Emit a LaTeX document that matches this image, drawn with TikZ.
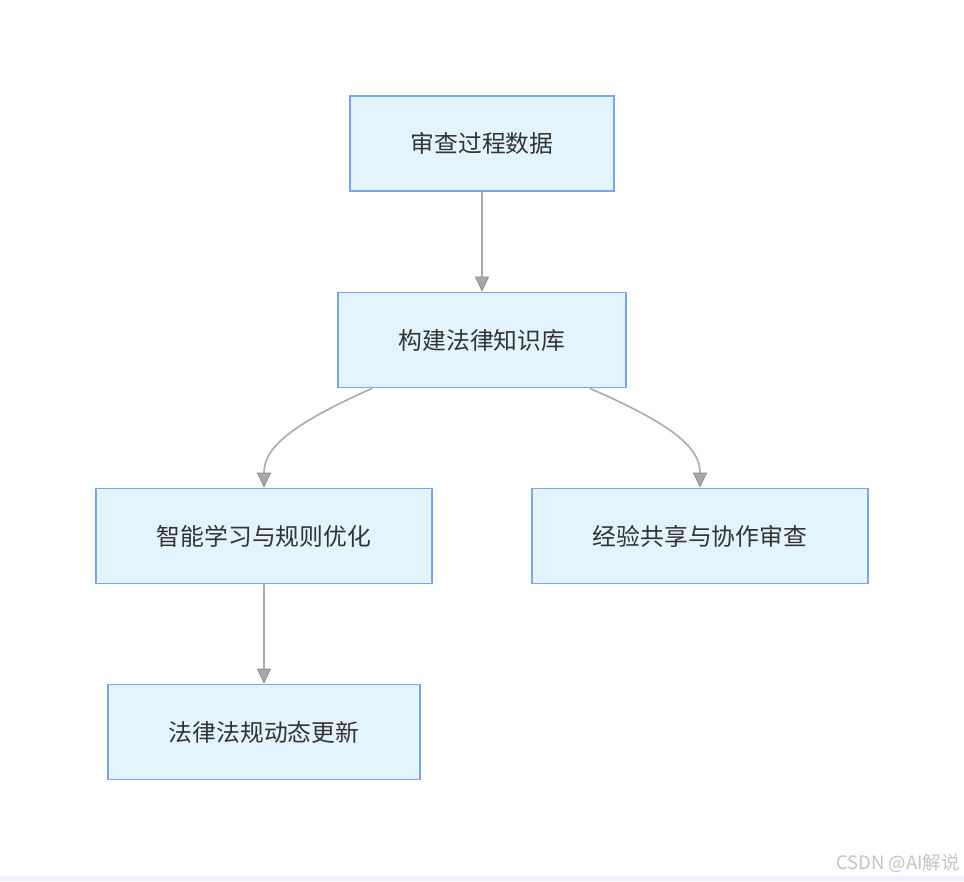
\documentclass[tikz,border=0pt]{standalone}
\usepackage{fontspec}
\newfontfamily\cjk{Noto Sans CJK SC}
\usetikzlibrary{arrows.meta}
\definecolor{boxfill}{HTML}{E3F4FD}
\definecolor{boxline}{HTML}{74A6F7}
\definecolor{txt}{HTML}{333333}
\definecolor{edge}{HTML}{ABABAB}
\definecolor{headfill}{HTML}{A8A8A8}
\definecolor{headline}{HTML}{8C8C8C}
\definecolor{wm}{HTML}{C4C4C4}
\definecolor{strip}{HTML}{EEF2FA}
\begin{document}
\begin{tikzpicture}[x=1pt,y=-1pt,
  flowbox/.style={draw=boxline, fill=boxfill, line width=1.8pt, minimum height=95pt,
    inner sep=0pt, text=txt, font=\cjk\fontsize{23.8}{28}\selectfont},
  flowedge/.style={draw=edge, line width=1.6pt,
    -{Triangle[length=15pt,width=14pt,fill=headfill,color=headline,line width=0.8pt]}}]
\useasboundingbox (0,0) rectangle (964,881);
\fill[white] (0,0) rectangle (964,881);
\fill[strip] (0,876) rectangle (964,881);
\node[flowbox, minimum width=264pt] (a) at (482,143.5) {审查过程数据};
\node[flowbox, minimum width=288pt] (b) at (482,340) {构建法律知识库};
\node[flowbox, minimum width=336pt] (c) at (264,536) {智能学习与规则优化};
\node[flowbox, minimum width=336pt] (d) at (700,536) {经验共享与协作审查};
\node[flowbox, minimum width=312pt] (e) at (264,732) {法律法规动态更新};
\draw[flowedge] (a.south) -- (b.north);
\draw[flowedge] (b.south west) ++(35,0) coordinate (bl)
  .. controls (290,425) and (264,448) .. (c.north);
\draw[flowedge] (b.south east) ++(-37,0) coordinate (br)
  .. controls (674,425) and (700,448) .. (d.north);
\draw[flowedge] (c.south) -- (e.north);
\node[anchor=east, text=wm, font=\cjk\fontsize{18.5}{22}\selectfont, inner sep=0pt] (wmark) at (960,863) {CSDN @AI解说};
\end{tikzpicture}
\end{document}
